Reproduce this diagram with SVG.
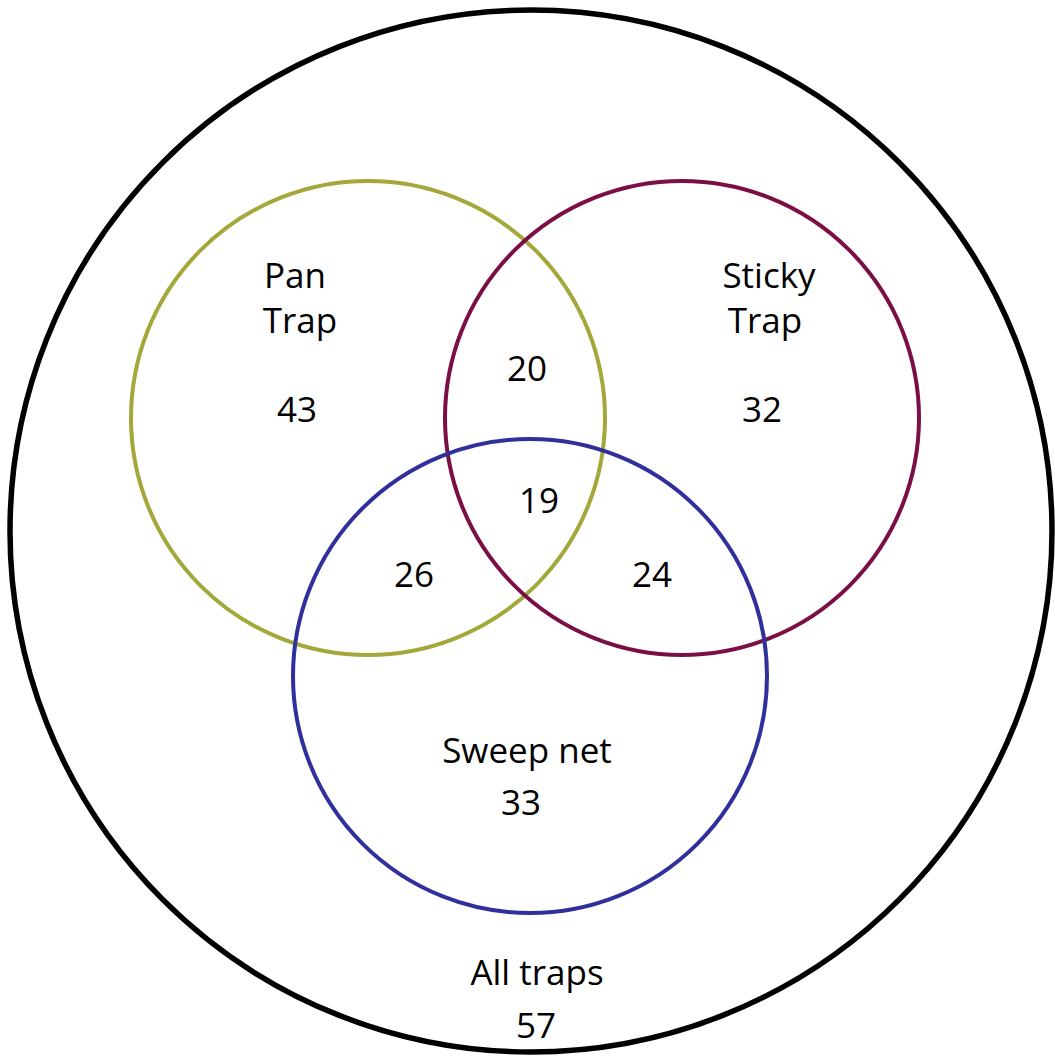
<svg xmlns="http://www.w3.org/2000/svg" width="1055" height="1060" viewBox="0 0 1055 1060">
<style>
text{font-family:"Open Sans","Noto Sans","Liberation Sans",sans-serif;font-size:35px;fill:#000;text-anchor:middle}
.c{fill:none;stroke-width:4}
</style>
<rect width="1055" height="1060" fill="#fff"/>
<g id="connectors"/>
<g id="all-traps">
<circle cx="531" cy="531" r="521" fill="none" stroke="#000" stroke-width="5.5"/>
<text x="537" y="985">All traps</text>
<text x="536" y="1038">57</text>
</g>
<g id="pan-trap">
<circle class="c" cx="368" cy="418" r="237" stroke="#a4a83a"/>
<text x="295" y="288">Pan</text>
<text x="300" y="333">Trap</text>
<text x="297" y="422">43</text>
</g>
<g id="sticky-trap">
<circle class="c" cx="682" cy="418" r="237" stroke="#7b0f45"/>
<text x="769" y="288">Sticky</text>
<text x="765" y="333">Trap</text>
<text x="762" y="422">32</text>
</g>
<g id="sweep-net">
<circle class="c" cx="530" cy="676" r="237" stroke="#2f309b"/>
<text x="527" y="763">Sweep net</text>
<text x="521" y="815">33</text>
</g>
<g id="overlaps">
<text x="527" y="381">20</text>
<text x="539" y="513">19</text>
<text x="414" y="587">26</text>
<text x="652" y="587">24</text>
</g>
</svg>
